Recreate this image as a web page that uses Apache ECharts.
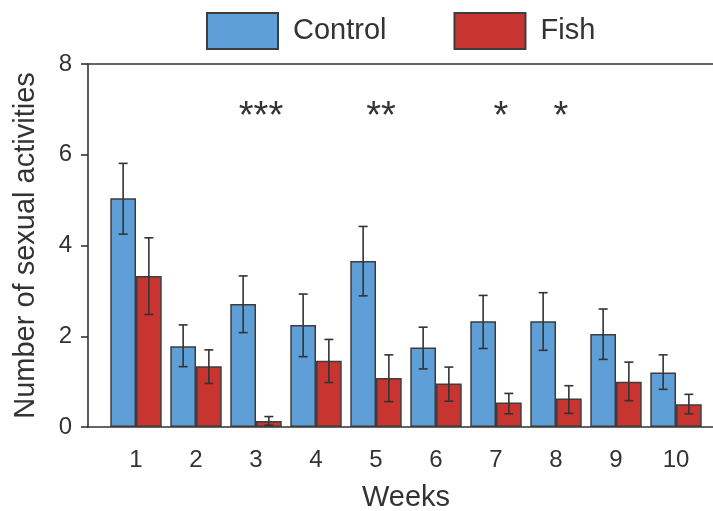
<!DOCTYPE html>
<html>
<head>
<meta charset="utf-8">
<script src="https://cdn.jsdelivr.net/npm/echarts@6/dist/echarts.min.js"></script>
<style>html,body{margin:0;padding:0;background:#fff}#c{width:713px;height:511px}</style>
</head>
<body>
<div id="c"></div>
<script>
var weeks = ['1','2','3','4','5','6','7','8','9','10'];
var controlMean = [5.04, 1.78, 2.71, 2.25, 3.66, 1.75, 2.33, 2.33, 2.05, 1.20];
var controlLow  = [4.25, 1.33, 2.08, 1.55, 2.89, 1.28, 1.73, 1.69, 1.49, 0.83];
var controlHigh = [5.81, 2.25, 3.33, 2.93, 4.42, 2.20, 2.90, 2.96, 2.60, 1.59];
var fishMean = [3.33, 1.34, 0.13, 1.46, 1.08, 0.96, 0.54, 0.63, 1.00, 0.50];
var fishLow  = [2.48, 0.96, 0.04, 0.98, 0.56, 0.57, 0.29, 0.30, 0.58, 0.29];
var fishHigh = [4.17, 1.70, 0.23, 1.93, 1.59, 1.32, 0.74, 0.91, 1.43, 0.72];
var sigWeeks = ['3', '5', '7', '8'];
var sigMarks = ['***', '**', '*', '*'];
var sigLevel = 6.82;
var yTicks = [0, 2, 4, 6, 8];

var FONT = '"Liberation Sans", Arial, Helvetica, sans-serif';
var TXT = '#333333';
var EDGE = '#3d3d3d';
var BLUE = '#5f9fd8';
var RED = '#c8342f';
var GAP = 0.143;

function errData(low, high) {
  return weeks.map(function (w, i) { return [i, low[i], high[i]]; });
}
function errSeries(name, low, high, side) {
  return {
    type: 'custom', name: name + ' err', xAxisIndex: 2, yAxisIndex: 1, z: 5,
    data: errData(low, high),
    encode: { x: 0, y: [1, 2] },
    renderItem: function (params, api) {
      var band = api.size([1, 0])[0];
      var bw = band * (1 - GAP) / 2;
      var p0 = api.coord([api.value(0), api.value(1)]);
      var p1 = api.coord([api.value(0), api.value(2)]);
      var x = p0[0] + side * bw / 2;
      var cap = 4.5;
      var st = { stroke: '#333', lineWidth: 1.6 };
      return { type: 'group', children: [
        { type: 'line', shape: { x1: x, y1: p0[1], x2: x, y2: p1[1] }, style: st },
        { type: 'line', shape: { x1: x - cap, y1: p0[1], x2: x + cap, y2: p0[1] }, style: st },
        { type: 'line', shape: { x1: x - cap, y1: p1[1], x2: x + cap, y2: p1[1] }, style: st }
      ]};
    }
  };
}

var chart = echarts.init(document.getElementById('c'), null, { renderer: 'canvas' });
chart.setOption({
  animation: false,
  backgroundColor: '#fff',
  textStyle: { fontFamily: FONT },
  legend: {
    left: 201, top: 7,
    itemWidth: 71, itemHeight: 36, itemGap: 67,
    icon: 'rect',
    data: ['Control', 'Fish'],
    textStyle: { fontSize: 29, color: TXT, fontFamily: FONT, padding: [0, 0, 0, 10] }
  },
  grid: [
    { left: 88, right: -8, top: 64, bottom: 84, outerBoundsMode: 'none', containLabel: false },
    { left: 106, right: 7, top: 64, bottom: 84, outerBoundsMode: 'none', containLabel: false }
  ],
  xAxis: [
    { type: 'value', gridIndex: 0, min: 0, max: 1, position: 'bottom',
      axisLine: { show: true, onZero: false, lineStyle: { color: '#333', width: 1.6 } },
      axisTick: { show: false }, axisLabel: { show: false }, splitLine: { show: false } },
    { type: 'value', gridIndex: 0, min: 0, max: 1, position: 'top',
      axisLine: { show: true, onZero: false, lineStyle: { color: '#333', width: 1.6 } },
      axisTick: { show: false }, axisLabel: { show: false }, splitLine: { show: false } },
    { type: 'category', gridIndex: 1, data: weeks, position: 'bottom',
      axisLine: { show: false }, axisTick: { show: false },
      axisLabel: { fontSize: 24, color: TXT, margin: 21, fontFamily: FONT },
      name: 'Weeks', nameLocation: 'middle', nameGap: 56,
      nameTextStyle: { fontSize: 29, color: TXT, fontFamily: FONT } }
  ],
  yAxis: [
    { type: 'value', gridIndex: 0, min: yTicks[0], max: yTicks[yTicks.length - 1], interval: 2,
      axisLine: { show: true, onZero: false, lineStyle: { color: '#333', width: 1.6 } },
      axisTick: { show: true, length: 7, lineStyle: { color: '#333', width: 1.6 } },
      axisLabel: { fontSize: 24, color: TXT, margin: 16, fontFamily: FONT },
      splitLine: { show: false },
      name: 'Number of sexual activities', nameLocation: 'middle', nameGap: 48,
      nameTextStyle: { fontSize: 29, color: TXT, fontFamily: FONT } },
    { type: 'value', gridIndex: 1, min: 0, max: 8, show: false, splitLine: { show: false } }
  ],
  series: [
    { type: 'bar', name: 'Control', xAxisIndex: 2, yAxisIndex: 1, data: controlMean,
      barGap: '0%', barCategoryGap: (GAP * 100) + '%',
      itemStyle: { color: BLUE, borderColor: EDGE, borderWidth: 1.5 } },
    { type: 'bar', name: 'Fish', xAxisIndex: 2, yAxisIndex: 1, data: fishMean,
      barGap: '0%', barCategoryGap: (GAP * 100) + '%',
      itemStyle: { color: RED, borderColor: EDGE, borderWidth: 1.5 } },
    errSeries('Control', controlLow, controlHigh, -1),
    errSeries('Fish', fishLow, fishHigh, 1),
    { type: 'custom', name: 'sig', xAxisIndex: 2, yAxisIndex: 1, z: 6,
      data: sigWeeks.map(function (w, i) { return [weeks.indexOf(w), sigLevel]; }),
      renderItem: function (params, api) {
        var p = api.coord([api.value(0), api.value(1)]);
        return { type: 'text', x: p[0] + 5, y: p[1], style: {
          text: sigMarks[params.dataIndex], fontSize: 38, fontFamily: FONT, fill: TXT,
          textAlign: 'center', textVerticalAlign: 'middle' } };
      } }
  ]
});
</script>
</body>
</html>
